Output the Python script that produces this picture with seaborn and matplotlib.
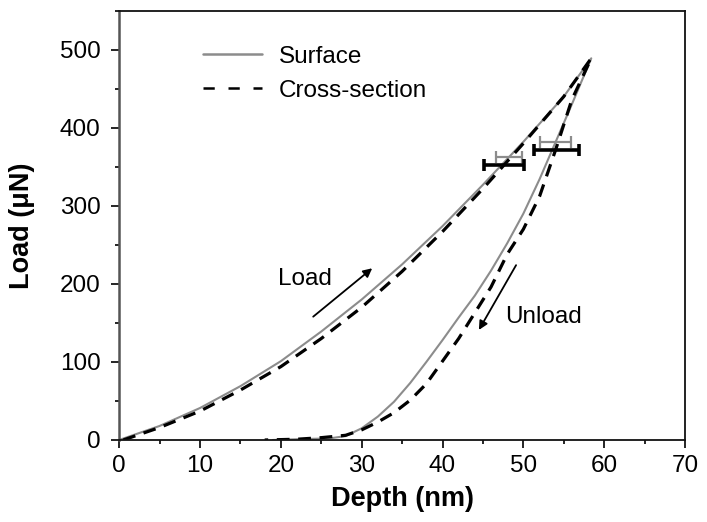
import numpy as np
import pandas as pd
import matplotlib
matplotlib.use("Agg")
import matplotlib.pyplot as plt
from matplotlib.lines import Line2D
from matplotlib.ticker import MultipleLocator
import seaborn as sns

# ---- data ----
surf_load_depth = [0, 5, 10, 15, 20, 25, 30, 35, 40, 45, 50, 55, 58.4]
surf_load_force = [0, 18, 41, 69, 101, 139, 180, 225, 274, 327, 382, 440, 489]
surf_unload_depth = [58.4, 56, 54, 52, 50, 48, 46, 44, 42, 40, 38, 36, 34, 32, 30, 28, 26, 22, 19]
surf_unload_force = [489, 430, 382, 334, 290, 252, 217, 185, 157, 128, 100, 73, 49, 30, 15, 5, 2, 1, 0]

cross_load_depth = [0.5, 5, 10, 15, 20, 25, 30, 35, 40, 45, 50, 55, 58.4]
cross_load_force = [0, 16, 37, 64, 94, 130, 170, 216, 267, 322, 380, 440, 489]
cross_unload_depth = [58.4, 56, 54, 52, 50, 48, 46, 44, 42, 40, 38, 36, 34, 32, 30, 28, 25, 22, 18]
cross_unload_force = [489, 436, 372, 312, 270, 238, 196, 163, 130, 101, 72, 51, 35, 23, 13, 6, 3, 1, 0]

# error bars (x-error) near the top of the load / unload branches
err_series = ["Surface", "Surface", "Cross-section", "Cross-section"]
err_depth = [48.2, 54.0, 47.6, 54.1]
err_force = [363, 382, 352, 371]
err_half = [1.6, 1.9, 2.45, 2.8]

series_names = ["Surface", "Cross-section"]

# ---- build tidy table ----
rows = []
for name, ld, lf, ud, uf in [
    ("Surface", surf_load_depth, surf_load_force, surf_unload_depth, surf_unload_force),
    ("Cross-section", cross_load_depth, cross_load_force, cross_unload_depth, cross_unload_force),
]:
    d = list(ld) + list(ud)
    f = list(lf) + list(uf)
    for i, (x, y) in enumerate(zip(d, f)):
        rows.append({"series": name, "order": i, "depth": x, "load": y})
df = pd.DataFrame(rows)

sns.set_style("ticks")
plt.rcParams["font.family"] = ["Liberation Sans", "DejaVu Sans"]
plt.rcParams["text.color"] = "black"
plt.rcParams["axes.labelcolor"] = "black"
plt.rcParams["xtick.color"] = "black"
plt.rcParams["ytick.color"] = "black"

fig = plt.figure(figsize=(7.07, 5.22), dpi=100)
ax = fig.add_axes([0.1686, 0.1571, 0.8003, 0.8224])

surf_color = "#8c8c8c"
sub = df[df.series == "Surface"]
sns.lineplot(data=sub, x="depth", y="load", sort=False, estimator=None,
             color=surf_color, lw=1.5, ax=ax, legend=False)
sub = df[df.series == "Cross-section"]
sns.lineplot(data=sub, x="depth", y="load", sort=False, estimator=None,
             color="black", lw=2.3, ax=ax, legend=False)
ax.lines[-1].set_dashes((4, 2.7))

for s, x, y, h in zip(err_series, err_depth, err_force, err_half):
    if s == "Surface":
        ax.errorbar(x, y, xerr=h, fmt="none", ecolor=surf_color, elinewidth=1.6,
                    capsize=4, capthick=1.6, zorder=4)
    else:
        ax.errorbar(x, y, xerr=h, fmt="none", ecolor="black", elinewidth=2.6,
                    capsize=4, capthick=2.6, zorder=5)

ax.set_xlim(0, 70)
ax.set_ylim(0, 550)
ax.set_xticks(range(0, 71, 10))
ax.set_yticks(range(0, 501, 100))
ax.xaxis.set_minor_locator(MultipleLocator(5))
ax.yaxis.set_minor_locator(MultipleLocator(50))
ax.tick_params(axis="both", which="major", direction="out", length=5.8, width=1.2,
               labelsize=17.5, colors="black")
ax.tick_params(axis="x", which="major", pad=5)
ax.tick_params(axis="y", which="major", pad=7.5)
ax.tick_params(axis="both", which="minor", direction="out", length=3, width=1.2)

for sp in ["top", "right", "bottom"]:
    ax.spines[sp].set_visible(True)
    ax.spines[sp].set_color("#111111")
    ax.spines[sp].set_linewidth(1.3)
ax.spines["left"].set_color("#555555")
ax.spines["left"].set_linewidth(1.8)

ax.set_xlabel("Depth (nm)", fontsize=19.5, fontweight="bold")
ax.set_ylabel("Load (\u03bcN)", fontsize=19.5, fontweight="bold")
ax.xaxis.set_label_coords(0.5, -0.108)
ax.yaxis.set_label_coords(-0.149, 0.5)

# annotations
ax.text(19.7, 198, "Load", fontsize=17.5, ha="left", va="baseline")
ax.annotate("", xy=(31.3, 220), xytext=(24.0, 158),
            arrowprops=dict(arrowstyle="-|>", color="black", lw=1.3,
                            mutation_scale=13, shrinkA=0, shrinkB=0))
ax.text(47.8, 150, "Unload", fontsize=17.5, ha="left", va="baseline")
ax.annotate("", xy=(44.5, 141), xytext=(49.1, 224),
            arrowprops=dict(arrowstyle="-|>", color="black", lw=1.3,
                            mutation_scale=13, shrinkA=0, shrinkB=0))

handles = [Line2D([], [], color=surf_color, lw=1.8),
           Line2D([], [], color="black", lw=1.8, dashes=(4.5, 5.5))]
ax.legend(handles, series_names, loc="upper left", bbox_to_anchor=(0.148, 0.918),
          frameon=False, fontsize=17.5, handlelength=2.45, handletextpad=0.66,
          labelspacing=0.48, borderpad=0, borderaxespad=0)

fig.savefig("out.png", dpi=100)
